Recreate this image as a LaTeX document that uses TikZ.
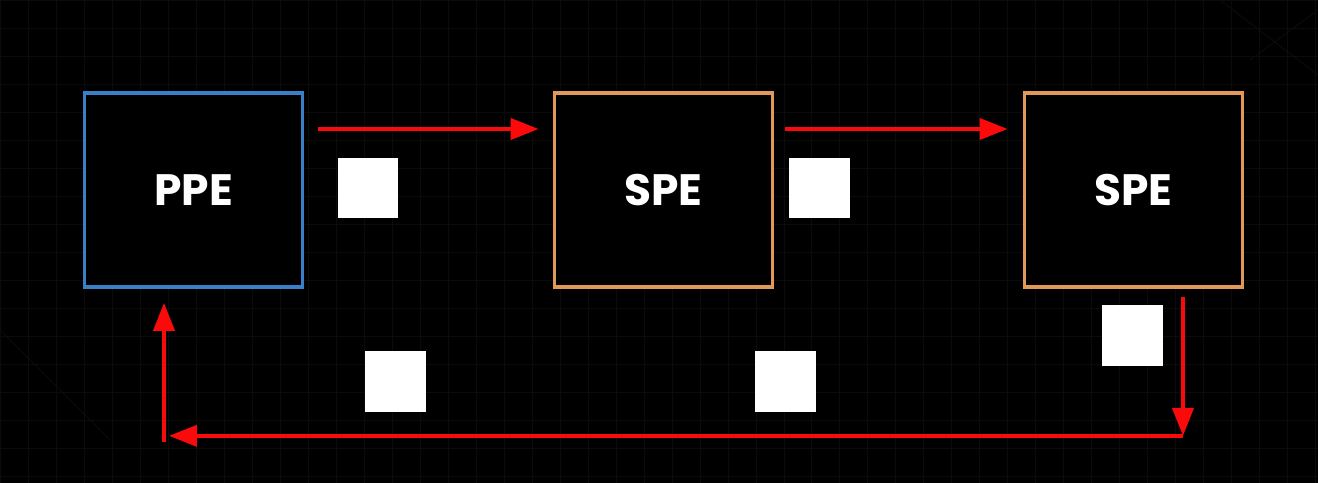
\documentclass[tikz,border=0pt]{standalone}
\usepackage{fontspec}
\setmainfont{Poppins}
\usetikzlibrary{arrows.meta,calc}
\definecolor{ppeblue}{RGB}{58,128,200}
\definecolor{speorange}{RGB}{226,152,88}
\definecolor{arrred}{RGB}{250,10,10}
\definecolor{gridc}{RGB}{11,11,11}
\tikzset{
  peBox/.style={draw, line width=0.075cm, fill=black, minimum width=4.36cm, minimum height=3.88cm,
    text=white, font=\fontsize{25}{30}\selectfont\bfseries, inner sep=0pt},
  pkt/.style={fill=white, minimum width=1.22cm, minimum height=1.22cm, inner sep=0pt},
  arr/.style={draw=arrred, line width=0.08cm, -{Triangle[length=0.56cm,width=0.42cm]}}
}
\begin{document}
\begin{tikzpicture}[x=0.02cm,y=-0.02cm]
\fill[black] (0,0) rectangle (1318,483);
\useasboundingbox (0,0) rectangle (1318,483);
\draw[gridc, line width=0.4pt, step=0.56cm] (0,0) grid (1318,483);
\draw[gridc, line width=0.6pt] (1220,0) -- (1318,75);
\draw[gridc, line width=0.6pt] (1318,10) -- (1250,60);
\draw[gridc, line width=0.6pt] (0,330) -- (110,440);

\node[peBox, draw=ppeblue] (ppe) at (193.5,190) {PPE};
\node[peBox, draw=speorange] (spe1) at (663.5,190) {SPE};
\node[peBox, draw=speorange] (spe2) at (1133.5,190) {SPE};

\node[pkt] (p1) at (368,188) {};
\node[pkt] (p2) at (819,188) {};
\node[pkt] (p3) at (1132.5,335.5) {};
\node[pkt] (p4) at (395.5,381.5) {};
\node[pkt] (p5) at (785.5,381.5) {};

\coordinate (ret) at ($(spe2.south)+(49.5,147)$);
\coordinate (corner) at ($(ppe.south)+(-29.5,147)$);

\draw[arr] ($(ppe.east)+(14,-61)$) -- ($(spe1.west)+(-14,-61)$);
\draw[arr] ($(spe1.east)+(11,-61)$) -- ($(spe2.west)+(-15,-61)$);
\draw[arr] ($(spe2.south)+(49.5,8)$) -- (ret);
\draw[arr] (ret) -- ($(corner)+(5,0)$);
\draw[arr] ($(corner)+(0,6)$) -- ($(ppe.south)+(-29.5,14)$);
\end{tikzpicture}
\end{document}
